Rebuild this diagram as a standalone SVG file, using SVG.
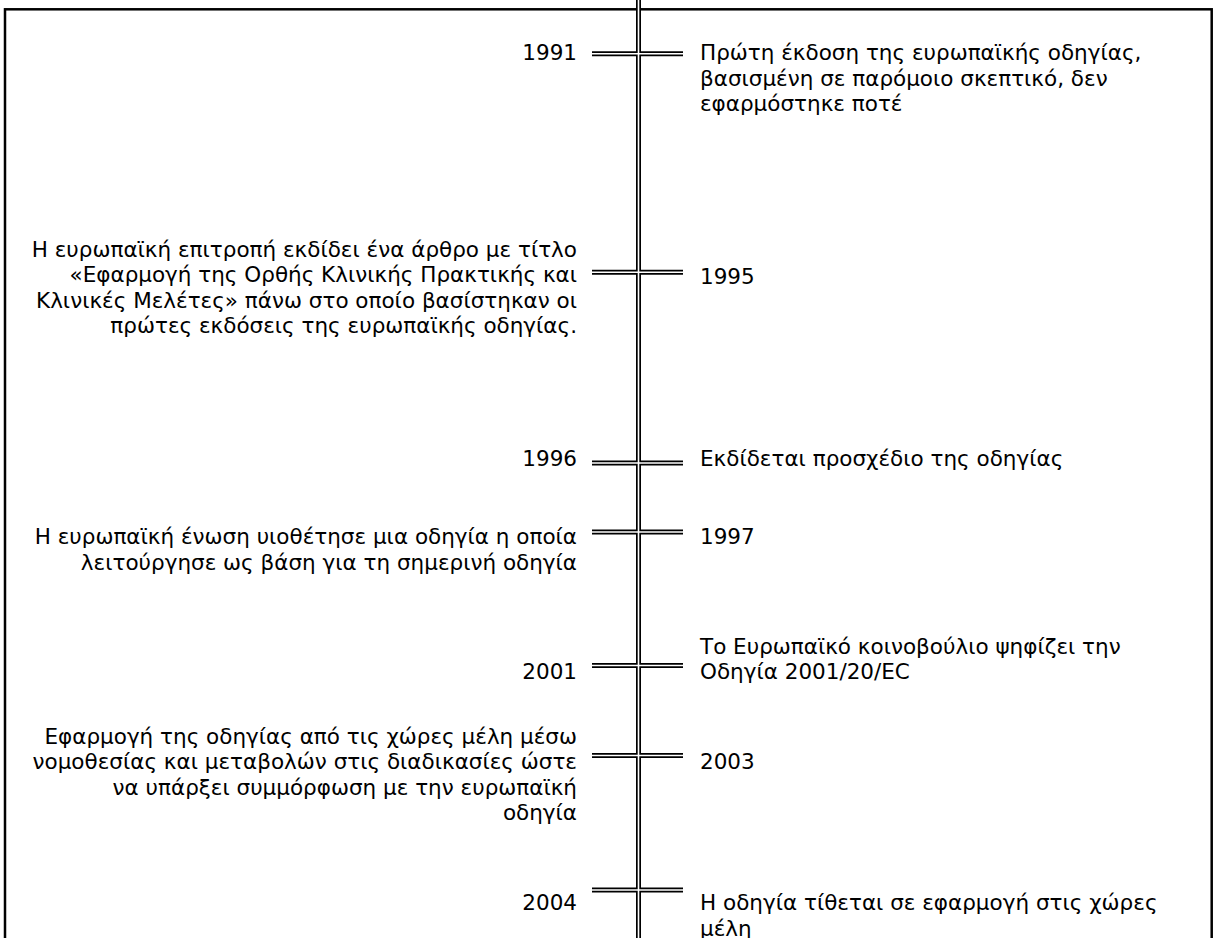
<svg xmlns="http://www.w3.org/2000/svg" width="1217" height="938" viewBox="0 0 1217 938">
<style>
.frame{fill:none;stroke:#000;stroke-width:2.5}
.outer{stroke:#000;stroke-width:5;fill:none}
.inner{stroke:#fff;stroke-width:1.6;fill:none}
text{font-family:"DejaVu Sans","Verdana",sans-serif;font-size:21.5px;fill:#000}
.l{text-anchor:end}
</style>
<rect width="1217" height="938" fill="#fff"/>
<rect class="frame" x="5" y="9.3" width="1206.7" height="1000"/>
<g id="connectors">
<g class="outer">
<line x1="638.5" y1="0" x2="638.5" y2="938"/>
<line x1="592" y1="53.7" x2="683" y2="53.7"/>
<line x1="592" y1="272.3" x2="683" y2="272.3"/>
<line x1="592" y1="463" x2="683" y2="463"/>
<line x1="592" y1="532" x2="683" y2="532"/>
<line x1="592" y1="665.5" x2="683" y2="665.5"/>
<line x1="592" y1="755.5" x2="683" y2="755.5"/>
<line x1="592" y1="890" x2="683" y2="890"/>
</g>
<g class="inner">
<line x1="638.5" y1="0" x2="638.5" y2="938"/>
<line x1="592" y1="53.7" x2="683" y2="53.7"/>
<line x1="592" y1="272.3" x2="683" y2="272.3"/>
<line x1="592" y1="463" x2="683" y2="463"/>
<line x1="592" y1="532" x2="683" y2="532"/>
<line x1="592" y1="665.5" x2="683" y2="665.5"/>
<line x1="592" y1="755.5" x2="683" y2="755.5"/>
<line x1="592" y1="890" x2="683" y2="890"/>
</g>
</g>
<g id="e1991">
<text class="l" x="577" y="60">1991</text>
<text x="700" y="60">Πρώτη έκδοση της ευρωπαϊκής οδηγίας,</text>
<text x="700" y="85.5">βασισμένη σε παρόμοιο σκεπτικό, δεν</text>
<text x="700" y="111">εφαρμόστηκε ποτέ</text>
</g>
<g id="e1995">
<text class="l" x="577" y="256.5">Η ευρωπαϊκή επιτροπή εκδίδει ένα άρθρο με τίτλο</text>
<text class="l" x="577" y="282">«Εφαρμογή της Ορθής Κλινικής Πρακτικής και</text>
<text class="l" x="577" y="307.5">Κλινικές Μελέτες» πάνω στο οποίο βασίστηκαν οι</text>
<text class="l" x="577" y="333">πρώτες εκδόσεις της ευρωπαϊκής οδηγίας.</text>
<text x="700" y="284">1995</text>
</g>
<g id="e1996">
<text class="l" x="577" y="466">1996</text>
<text x="700" y="466">Εκδίδεται προσχέδιο της οδηγίας</text>
</g>
<g id="e1997">
<text class="l" x="577" y="544">Η ευρωπαϊκή ένωση υιοθέτησε μια οδηγία η οποία</text>
<text class="l" x="577" y="569.5">λειτούργησε ως βάση για τη σημερινή οδηγία</text>
<text x="700" y="544">1997</text>
</g>
<g id="e2001">
<text class="l" x="577" y="679">2001</text>
<text x="700" y="653.5">Το Ευρωπαϊκό κοινοβούλιο ψηφίζει την</text>
<text x="700" y="679">Οδηγία 2001/20/EC</text>
</g>
<g id="e2003">
<text class="l" x="577" y="743.5">Εφαρμογή της οδηγίας από τις χώρες μέλη μέσω</text>
<text class="l" x="577" y="769">νομοθεσίας και μεταβολών στις διαδικασίες ώστε</text>
<text class="l" x="577" y="794.5">να υπάρξει συμμόρφωση με την ευρωπαϊκή</text>
<text class="l" x="577" y="820">οδηγία</text>
<text x="700" y="769">2003</text>
</g>
<g id="e2004">
<text class="l" x="577" y="910">2004</text>
<text x="700" y="910">Η οδηγία τίθεται σε εφαρμογή στις χώρες</text>
<text x="700" y="935.5">μέλη</text>
</g>
</svg>
